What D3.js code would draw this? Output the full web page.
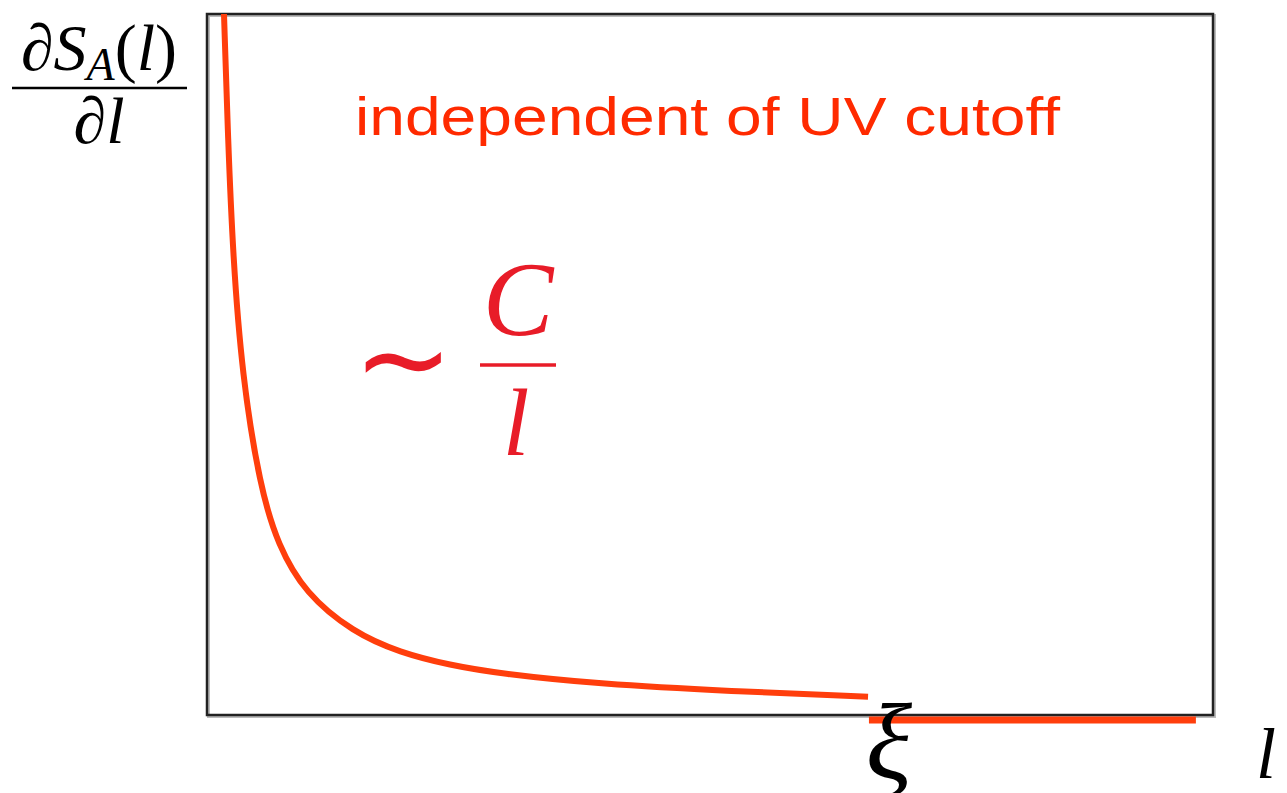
<!DOCTYPE html>
<html>
<head>
<meta charset="utf-8">
<script src="https://cdn.jsdelivr.net/npm/d3@7"></script>
<style>
  body { margin: 0; background: #fff; }
  svg { display: block; }
</style>
</head>
<body>
<script>
// curve points (l, dS/dl) in plot units
const curveL = [0.169, 0.209, 0.258, 0.348, 0.527, 0.706, 0.974, 1.451, 1.918, 2.416, 2.912, 3.907, 5.199, 6.571];
const curveV = [10.0, 8.2, 6.55, 4.85, 3.25, 2.42, 1.74, 1.18, 0.89, 0.71, 0.59, 0.44, 0.34, 0.26];
// flat segment after xi
const flatL = [6.58, 9.83];
const flatV = [-0.07, -0.07];
const xiL = 6.58;

const width = 1287, height = 793;

const svg = d3.select("body").append("svg")
  .attr("width", width)
  .attr("height", height);

const X = d3.scaleLinear().domain([0, 10]).range([207, 1213]);
const Y = d3.scaleLinear().domain([0, 10]).range([715, 14]);

// frame with a soft shadow
svg.append("rect")
  .attr("x", X(0) + 1.5).attr("y", Y(10) + 1.5)
  .attr("width", X(10) - X(0)).attr("height", Y(0) - Y(10))
  .attr("fill", "none").attr("stroke", "#bbb").attr("stroke-width", 3);
svg.append("rect")
  .attr("x", X(0)).attr("y", Y(10))
  .attr("width", X(10) - X(0)).attr("height", Y(0) - Y(10))
  .attr("fill", "none").attr("stroke", "#222").attr("stroke-width", 2.5);

const lineGen = d3.line()
  .x(d => X(d[0]))
  .y(d => Y(d[1]))
  .curve(d3.curveBasis);

svg.append("path")
  .attr("d", lineGen(curveL.map((l, i) => [l, curveV[i]])))
  .attr("fill", "none")
  .attr("stroke", "#ff3e0c")
  .attr("stroke-width", 6);

svg.append("path")
  .attr("d", d3.line().x(d => X(d[0])).y(d => Y(d[1]))(flatL.map((l, i) => [l, flatV[i]])))
  .attr("stroke", "#ff3e0c")
  .attr("stroke-width", 7);

// red annotation
svg.append("text")
  .attr("x", 355).attr("y", 135)
  .attr("font-family", "Liberation Sans, Arial, sans-serif")
  .attr("font-size", 54)
  .attr("fill", "#ff2a00")
  .attr("textLength", 705)
  .attr("lengthAdjust", "spacingAndGlyphs")
  .text("independent of UV cutoff");

// ~ C / l
const serif = "Liberation Serif, Times New Roman, serif";
svg.append("text")
  .attr("x", 403).attr("y", 400)
  .attr("text-anchor", "middle")
  .attr("font-family", serif)
  .attr("font-size", 120)
  .attr("fill", "#e81c28")
  .text("∼");
svg.append("text")
  .attr("x", 518).attr("y", 335)
  .attr("text-anchor", "middle")
  .attr("font-family", serif).attr("font-style", "italic")
  .attr("font-size", 106)
  .attr("fill", "#e81c28")
  .text("C");
svg.append("line")
  .attr("x1", 480).attr("x2", 556)
  .attr("y1", 365).attr("y2", 365)
  .attr("stroke", "#e81c28").attr("stroke-width", 3.5);
svg.append("text")
  .attr("x", 516).attr("y", 455)
  .attr("text-anchor", "middle")
  .attr("font-family", serif).attr("font-style", "italic")
  .attr("font-size", 96)
  .attr("fill", "#e81c28")
  .text("l");

// y label  dS_A(l)/dl
const num = svg.append("text")
  .attr("x", 99).attr("y", 70)
  .attr("text-anchor", "middle")
  .attr("font-family", serif)
  .attr("font-size", 66)
  .attr("fill", "#000");
num.append("tspan").text("∂");
num.append("tspan").attr("font-style", "italic").text("S");
num.append("tspan").attr("font-style", "italic").attr("font-size", 46).attr("dy", 10).text("A");
num.append("tspan").attr("dy", -10).text("(");
num.append("tspan").attr("font-style", "italic").text("l");
num.append("tspan").text(")");
svg.append("line")
  .attr("x1", 12).attr("x2", 187)
  .attr("y1", 88).attr("y2", 88)
  .attr("stroke", "#000").attr("stroke-width", 2.5);
const den = svg.append("text")
  .attr("x", 99).attr("y", 143)
  .attr("text-anchor", "middle")
  .attr("font-family", serif)
  .attr("font-size", 66)
  .attr("fill", "#000");
den.append("tspan").text("∂");
den.append("tspan").attr("font-style", "italic").text("l");

// xi and l axis label
svg.append("text")
  .attr("x", X(xiL) + 20).attr("y", 778)
  .attr("text-anchor", "middle")
  .attr("font-family", serif).attr("font-style", "italic")
  .attr("font-size", 108)
  .attr("fill", "#000")
  .text("ξ");
svg.append("text")
  .attr("x", 1266).attr("y", 778)
  .attr("text-anchor", "middle")
  .attr("font-family", serif).attr("font-style", "italic")
  .attr("font-size", 72)
  .attr("fill", "#000")
  .text("l");
</script>
</body>
</html>
